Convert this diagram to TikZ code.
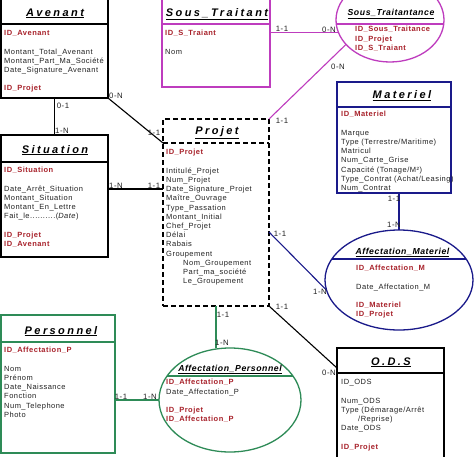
\documentclass[tikz,border=0pt]{standalone}
\usepackage{fontspec}
\setmainfont{Liberation Sans}[LetterSpace=6.5]
\newfontfamily\titlefont{Liberation Sans}[LetterSpace=22]
\usetikzlibrary{shapes.geometric,calc}
\definecolor{magc}{HTML}{BE3CBE}
\definecolor{navc}{HTML}{1A1A8A}
\definecolor{grnc}{HTML}{2E8B57}
\definecolor{keyred}{HTML}{A8222B}
\definecolor{txtc}{HTML}{222222}
\newcommand\rk[1]{\textcolor{keyred}{\bfseries #1}}
\newcommand\ttl[1]{\titlefont\bfseries\itshape\underline{#1}}
\newcommand\ettl[1]{\bfseries\itshape\underline{#1}}
\tikzset{
  ent/.style={draw, line width=1.3pt, rectangle, inner sep=0pt, outer sep=0pt},
  ell/.style={draw, line width=1.3pt, ellipse, inner sep=0pt, outer sep=0pt},
  body/.style={anchor=north west, inner sep=0pt, align=left, font=\fontsize{7.5}{9.2}\selectfont, text=txtc},
  ttlnode/.style={anchor=base, inner sep=0pt, font=\fontsize{11}{12}\selectfont},
  ettlnode/.style={anchor=base, inner sep=0pt, font=\fontsize{8.7}{10}\selectfont},
  card/.style={inner sep=0pt, font=\fontsize{7.8}{9}\selectfont, text=txtc},
  conn/.style={line width=1.1pt},
  divl/.style={line width=1.3pt}
}
\begin{document}
\begin{tikzpicture}[x=1pt,y=-1pt]
\clip (0,0) rectangle (474,456);
\fill[white] (0,0) rectangle (474,456);

% ---------- boxes ----------
\node[ent, minimum width=107pt, minimum height=100pt] (av) at (54.5,48) {};
\node[ent, draw=magc, minimum width=108pt, minimum height=89pt] (st) at (216,42.5) {};
\node[ell, draw=magc, minimum width=108pt, minimum height=84pt] (stt) at (390,20) {};
\node[ent, minimum width=107pt, minimum height=122pt] (sit) at (54.5,196) {};
\node[ent, line width=1.8pt, dash pattern=on 5pt off 3pt, minimum width=106pt, minimum height=187pt] (pj) at (216,212.5) {};
\node[ent, draw=navc, minimum width=114pt, minimum height=111pt] (mat) at (394,137.5) {};
\node[ell, draw=navc, minimum width=148pt, minimum height=100pt] (am) at (399,280) {};
\node[ent, draw=grnc, minimum width=114pt, minimum height=138pt] (pers) at (58,384) {};
\node[ell, draw=grnc, minimum width=142pt, minimum height=104pt] (ap) at (230,400) {};
\node[ent, minimum width=107pt, minimum height=122pt] (ods) at (390.5,409) {};

% ---------- dividers ----------
\draw[divl] (av.west |- 0,24) -- (av.east |- 0,24);
\draw[divl, magc] (st.west |- 0,24) -- (st.east |- 0,24);
\draw[divl, magc] (336.3,24) -- (443.7,24);
\draw[divl] (sit.west |- 0,162) -- (sit.east |- 0,162);
\draw[line width=1.8pt, dash pattern=on 5pt off 3pt] (pj.west |- 0,143) -- (pj.east |- 0,143);
\draw[divl, navc] (mat.west |- 0,107) -- (mat.east |- 0,107);
\draw[divl, navc] (331.8,259) -- (466.2,259);
\draw[divl, grnc] (pers.west |- 0,342) -- (pers.east |- 0,342);
\draw[divl, grnc] (167,376) -- (293,376);
\draw[divl] (ods.west |- 0,373) -- (ods.east |- 0,373);

% ---------- titles ----------
\node[ttlnode] (tav) at (55,16) {\ttl{Avenant}};
\node[ttlnode] (tst) at (217,16) {\ttl{Sous\_Traitant}};
\node[ttlnode] (tsit) at (55,153) {\ttl{Situation}};
\node[ttlnode] (tpj) at (217,134.5) {\ttl{Projet}};
\node[ttlnode] (tmat) at (402,98.5) {\ttl{Materiel}};
\node[ttlnode] (tpers) at (61,334) {\ttl{Personnel}};
\node[ttlnode] (tods) at (391,365) {\ttl{O.D.S}};
\node[ettlnode] (tstt) at (391,15.5) {\ettl{Sous\_Traitantance}};
\node[ettlnode] (tam) at (402.5,254) {\ettl{Affectation\_Materiel}};
\node[ettlnode] (tap) at (230,371) {\ettl{Affectation\_Personnel}};

% ---------- bodies ----------
\node[body] (bav) at (4,30.3) {\rk{ID\_Avenant}\\[9.2pt]
  Montant\_Total\_Avenant\\ Montant\_Part\_Ma\_Société\\ Date\_Signature\_Avenant\\[9.2pt]
  \rk{ID\_Projet}};
\node[body] (bst) at (165,30.3) {\rk{ID\_S\_Traiant}\\[9.2pt] Nom};
\node[body] (bstt) at (355,26.3) {\rk{ID\_Sous\_Traitance}\\ \rk{ID\_Projet}\\ \rk{ID\_S\_Traiant}};
\node[body] (bsit) at (4,167.3) {\rk{ID\_Situation}\\[9.2pt]
  Date\_Arrêt\_Situation\\ Montant\_Situation\\ Montant\_En\_Lettre\\ Fait\_le..........(\textit{Date})\\[9.2pt]
  \rk{ID\_Projet}\\ \rk{ID\_Avenant}};
\node[body] (bpj) at (166,149.3) {\rk{ID\_Projet}\\[9.2pt]
  Intitulé\_Projet\\ Num\_Projet\\ Date\_Signature\_Projet\\ Maître\_Ouvrage\\ Type\_Passation\\
  Montant\_Initial\\ Chef\_Projet\\ Délai\\ Rabais\\ Groupement\\
  \hspace{17pt}Nom\_Groupement\\ \hspace{17pt}Part\_ma\_société\\ \hspace{17pt}Le\_Groupement};
\node[body] (bmat) at (341,111.3) {\rk{ID\_Materiel}\\[9.2pt]
  Marque\\ Type (Terrestre/Maritime)\\ Matricul\\ Num\_Carte\_Grise\\ Capacité (Tonage/M²)\\
  Type\_Contrat (Achat/Leasing)\\ Num\_Contrat};
\node[body] (bam) at (356,265.3) {\rk{ID\_Affectation\_M}\\[9.2pt] Date\_Affectation\_M\\[9.2pt]
  \rk{ID\_Materiel}\\ \rk{ID\_Projet}};
\node[body] (bpers) at (4,347.3) {\rk{ID\_Affectation\_P}\\[9.2pt]
  Nom\\ Prénom\\ Date\_Naissance\\ Fonction\\ Num\_Telephone\\ Photo};
\node[body] (bap) at (166,379.3) {\rk{ID\_Affectation\_P}\\ Date\_Affectation\_P\\[9.2pt]
  \rk{ID\_Projet}\\ \rk{ID\_Affectation\_P}};
\node[body] (bods) at (341,379.3) {ID\_ODS\\[9.2pt] Num\_ODS\\ Type (Démarage/Arrêt\\
  \hspace{17pt}/Reprise)\\ Date\_ODS\\[9.2pt] \rk{ID\_Projet}};

% ---------- connectors ----------
\draw[conn, magc] (st.east |- stt.194) -- (stt.194);
\draw[conn, magc] (stt.209) -- (pj.north east);
\draw[conn] (av.south) -- (sit.north);
\draw[conn] (av.south east) -- ([yshift=69.5pt]pj.west);
\draw[conn] ([yshift=7pt]sit.east) -- ([yshift=7pt]sit.east -| pj.west);
\draw[conn, navc] ([yshift=-19.5pt]pj.east) -- (am.188);
\draw[conn, navc] (am.north |- mat.south) -- (am.north);
\draw[conn] (pj.south east) -- ([yshift=41pt]ods.west);
\draw[conn, grnc] (pj.south) -- (pj.south |- ap.north);
\draw[conn, grnc] ([yshift=-16pt]pers.east) -- (ap.west);

% ---------- cardinalities ----------
\node[card] (c1) at (282,29) {1-1};
\node[card] (c2) at (329,30) {0-N};
\node[card] (c3) at (338,67) {0-N};
\node[card] (c4) at (282,121) {1-1};
\node[card] (c5) at (63,106) {0-1};
\node[card] (c6) at (62,131) {1-N};
\node[card] (c7) at (116,96) {0-N};
\node[card] (c8) at (154,133) {1-1};
\node[card] (c9) at (116,186) {1-N};
\node[card] (c10) at (154,186) {1-1};
\node[card] (c11) at (280,234) {1-1};
\node[card] (c12) at (320,292) {1-N};
\node[card] (c13) at (394,199) {1-1};
\node[card] (c14) at (394,225) {1-N};
\node[card] (c15) at (282,307) {1-1};
\node[card] (c16) at (329,373) {0-N};
\node[card] (c17) at (223,315) {1-1};
\node[card] (c18) at (222,343) {1-N};
\node[card] (c19) at (121,397) {1-1};
\node[card] (c20) at (150,397) {1-N};
\end{tikzpicture}
\end{document}
